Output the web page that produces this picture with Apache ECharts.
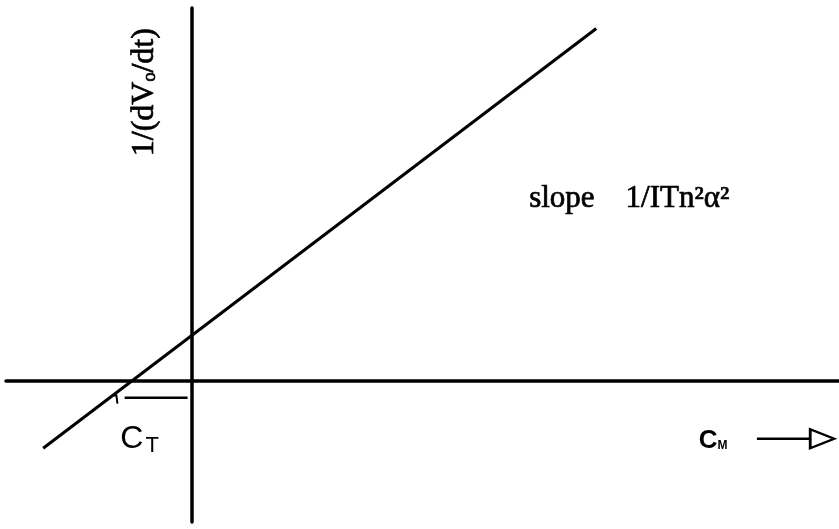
<!DOCTYPE html>
<html>
<head>
<meta charset="utf-8">
<script src="https://cdn.jsdelivr.net/npm/echarts@6/dist/echarts.min.js"></script>
<style>
  html, body { margin: 0; padding: 0; background: #fff; }
  #chart { width: 839px; height: 529px; }
</style>
</head>
<body>
<div id="chart"></div>
<script>
// Axis extents (C_M along x, 1/(dVo/dt) along y)
const xRange = [-3.1, 10.8];
const yRange = [-3.1, 8.2];

// Reciprocal-rate line: intercept on C_M axis at -C_T
const lineX = [-2.48, 6.75];
const lineY = [-1.48, 7.75];

// C_T bracket between the x-intercept and the origin
const bracketX = [-1.12, -0.07];
const bracketY = [-0.37, -0.37];
const hookX = [-1.3, -1.26, -1.24];
const hookY = [-0.33, -0.3, -0.5];

// C_M direction arrow
const arrowX = [9.43, 10.52];
const arrowY = [-1.27, -1.27];

// Annotation anchors [x, y]
const slopeAt = [5.63, 4.0];
const yNameAt = [-0.78, 6.35];
const ctAt = [-0.87, -1.27];
const cmAt = [8.7, -1.32];

const serif = '"Liberation Serif", "DejaVu Serif", serif';
const sans = '"Liberation Sans", "DejaVu Sans", sans-serif';

const chart = echarts.init(document.getElementById('chart'), null, { renderer: 'canvas' });

const zip = (xs, ys) => xs.map((x, i) => [x, ys[i]]);

// printed-type look: regular face with a thin outline for a heavier stroke
const ink = { color: '#000', textBorderColor: '#000', textBorderWidth: 0.7 };

const option = {
  animation: false,
  backgroundColor: '#ffffff',
  grid: { left: 6, right: 0, top: 8, bottom: 7, containLabel: false },
  xAxis: {
    type: 'value', min: xRange[0], max: xRange[1],
    axisLine: { show: true, onZero: true, lineStyle: { color: '#000', width: 3.5 } },
    axisTick: { show: false }, axisLabel: { show: false }, splitLine: { show: false }
  },
  yAxis: {
    type: 'value', min: yRange[0], max: yRange[1],
    axisLine: { show: true, onZero: true, lineStyle: { color: '#000', width: 3.5 } },
    axisTick: { show: false }, axisLabel: { show: false }, splitLine: { show: false }
  },
  series: [
    {
      type: 'line', data: zip(lineX, lineY), showSymbol: false,
      lineStyle: { color: '#000', width: 3 }, silent: true
    },
    {
      type: 'line', data: zip(bracketX, bracketY), showSymbol: false,
      lineStyle: { color: '#000', width: 2.5 }, silent: true
    },
    {
      type: 'line', data: zip(hookX, hookY), showSymbol: false,
      lineStyle: { color: '#000', width: 2 }, silent: true
    },
    {
      type: 'line',
      data: [
        { value: [arrowX[0], arrowY[0]], symbol: 'none' },
        { value: [arrowX[1], arrowY[1]], symbol: 'triangle', symbolSize: [19, 24], symbolRotate: -90 }
      ],
      showSymbol: true,
      lineStyle: { color: '#000', width: 2.5 },
      itemStyle: { color: '#fff', borderColor: '#000', borderWidth: 2.5 },
      silent: true
    },
    {
      type: 'scatter', symbolSize: 0, silent: true,
      itemStyle: { opacity: 1 },
      label: { show: true, position: 'inside', color: '#000' },
      data: [
        {
          value: slopeAt,
          label: Object.assign({
            position: 'right', distance: 0,
            formatter: 'slope    1/ITn²α²',
            fontFamily: serif, fontSize: 31
          }, ink)
        },
        {
          value: yNameAt,
          label: Object.assign({
            rotate: 90,
            formatter: '1/(dV{s|o}/dt)',
            fontFamily: serif, fontSize: 32,
            rich: { s: Object.assign({ fontFamily: serif, fontSize: 18, padding: [10, 0, 0, 0] }, ink) }
          }, ink)
        },
        {
          value: ctAt,
          label: {
            color: '#000',
            formatter: '{c|C}{t|T}',
            rich: {
              c: { fontFamily: sans, fontSize: 32, color: '#000' },
              t: { fontFamily: sans, fontSize: 22, color: '#000', padding: [14, 0, 0, 2] }
            }
          }
        },
        {
          value: cmAt,
          label: {
            color: '#000',
            formatter: '{c|C}{m|M}',
            rich: {
              c: { fontFamily: sans, fontSize: 26, color: '#000', fontWeight: 'bold' },
              m: { fontFamily: sans, fontSize: 12, color: '#000', fontWeight: 'bold', padding: [10, 0, 0, 0] }
            }
          }
        }
      ]
    }
  ]
};

chart.setOption(option);
</script>
</body>
</html>
